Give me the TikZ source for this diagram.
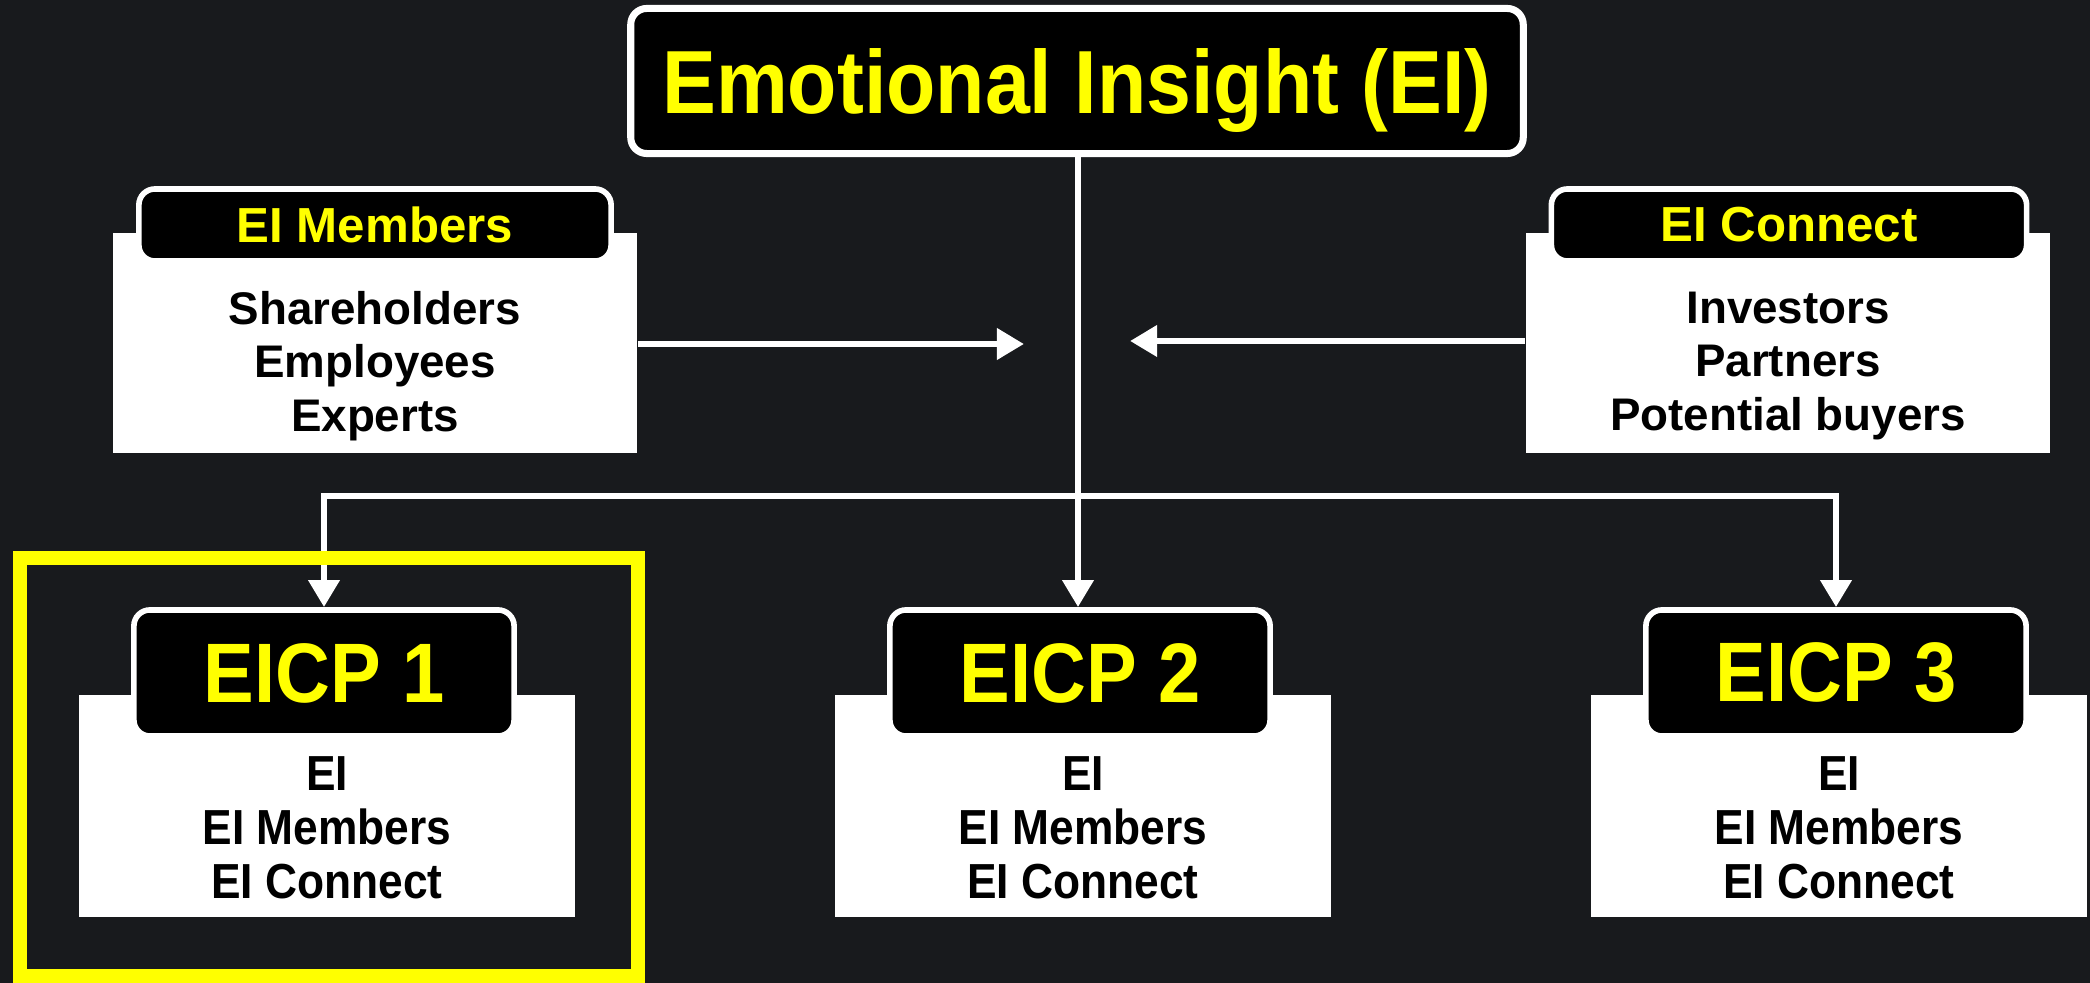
\documentclass[tikz,border=0pt]{standalone}
\usepackage{fontspec}
\setmainfont{Liberation Sans}
\newfontfamily\narrowsans[FakeStretch=0.9]{Liberation Sans}
\usetikzlibrary{arrows.meta}
\definecolor{bgdark}{RGB}{24,26,29}
\definecolor{eiyellow}{RGB}{255,255,0}
\tikzset{
  tab/.style={draw=white, line width=1.6pt, fill=black, rounded corners=0.16cm, text=eiyellow, font=\bfseries, inner sep=0pt},
  body/.style={fill=white, inner sep=0pt},
  list/.style={align=center, font=\fontsize{13}{15.2}\selectfont\bfseries, text=black},
  link/.style={white, line width=1.9pt, -{Triangle[length=0.27cm, width=0.3cm]}},
}
\begin{document}
\begin{tikzpicture}[x=0.01cm,y=-0.01cm]
  \fill[bgdark] (0,0) rectangle (2090,983);
  \useasboundingbox (0,0) rectangle (2090,983);
  % top
  \node[tab, line width=2pt, minimum width=8.92cm, minimum height=1.45cm, text depth=0pt, font=\narrowsans\fontsize{25.5}{27}\selectfont\bfseries] (ei) at (1077,81) {Emotional Insight (EI)};
  % side groups
  \node[body, minimum width=5.24cm, minimum height=2.2cm] (memb) at (375,343) {};
  \node[tab, minimum width=4.72cm, minimum height=0.72cm, font=\fontsize{14}{16}\selectfont\bfseries] (membt) at (375,225) {EI Members};
  \node[list] (membl) at (375,366) {Shareholders\\Employees\\Experts};
  \node[body, minimum width=5.24cm, minimum height=2.2cm] (conn) at (1788,343) {};
  \node[tab, minimum width=4.75cm, minimum height=0.72cm, font=\fontsize{14}{16}\selectfont\bfseries] (connt) at (1789,225) {EI Connect};
  \node[list] (connl) at (1788,366) {Investors\\Partners\\Potential buyers};
  % partners
  \foreach \i/\x in {1/327, 2/1083, 3/1839} {
    \node[body, minimum width=4.95cm, minimum height=2.21cm] (cp\i) at (\x,806) {};
    \node[tab, minimum width=3.8cm, minimum height=1.26cm, font=\narrowsans\fontsize{24}{26}\selectfont\bfseries] (cpt\i) at (\x-3,673) {EICP \i};
    \node[list, font=\narrowsans\fontsize{14}{15.4}\selectfont\bfseries] (cpl\i) at (\x,828) {EI\\EI Members\\EI Connect};
  }
  % connectors
  \coordinate (mid) at (1078,496);
  \coordinate (inl) at (1024,344);
  \coordinate (inr) at (1130,341);
  \draw[link] (memb.east |- inl) -- (inl);
  \draw[link] (conn.west |- inr) -- (inr);
  \draw[link] (ei.south -| mid) -- (cpt2.north -| mid);
  \draw[link] (mid) -| (cpt1.north);
  \draw[link] (mid) -| (cpt3.north);
  % highlight
  \draw[eiyellow, line width=4pt] (20,558) rectangle (638,976);
\end{tikzpicture}
\end{document}
